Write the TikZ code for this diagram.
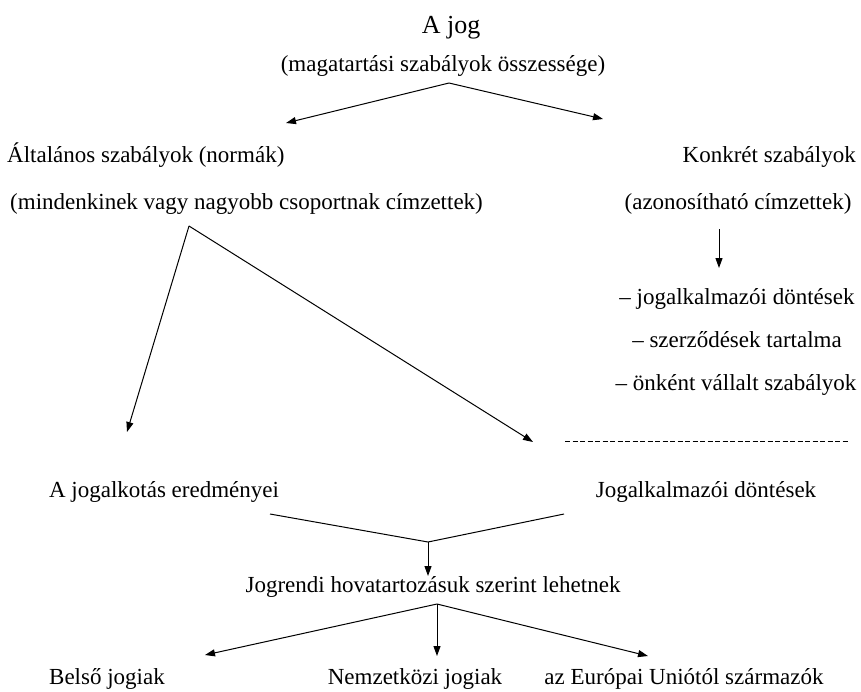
\documentclass[tikz,border=0pt]{standalone}
\usepackage{fontspec}
\setmainfont{Liberation Serif}
\usetikzlibrary{arrows.meta}
\begin{document}
\begin{tikzpicture}[x=1pt,y=-1pt,
  txt/.style={inner sep=0pt, font=\fontsize{23}{27}\selectfont},
  big/.style={inner sep=0pt, font=\fontsize{26}{30}\selectfont},
  conn/.style={line width=1pt},
  arr/.style={conn, -{Triangle[length=10pt,width=7pt]}},
  dash line/.style={line width=1pt, dash pattern=on 5pt off 2.5pt}
]
\useasboundingbox (0,0) rectangle (861,691);
% top
\node[big, anchor=base] (jog) at (451,33) {A jog};
\node[txt, anchor=base] (mag) at (443,71) {(magatartási szabályok összessége)};
\coordinate (a1) at (449,83);
\coordinate (t1) at (286,123);
\coordinate (t2) at (603,119);
\draw[arr] (a1) -- (t1);
\draw[arr] (a1) -- (t2);
% second level
\node[txt, anchor=base west] (alt) at (7,162) {Általános szabályok (normák)};
\node[txt, anchor=base west] (mind) at (10,209) {(mindenkinek vagy nagyobb csoportnak címzettek)};
\node[txt, anchor=base east] (konk) at (856,162) {Konkrét szabályok};
\node[txt, anchor=base] (azon) at (738,209) {(azonosítható címzettek)};
% right column
\coordinate (k1) at (719,229);
\coordinate (k2) at (719,268);
\draw[arr] (k1) -- (k2);
\node[txt, anchor=base] (l1) at (737,304) {– jogalkalmazói döntések};
\node[txt, anchor=base] (l2) at (737,347) {– szerződések tartalma};
\node[txt, anchor=base] (l3) at (736,390) {– önként vállalt szabályok};
\coordinate (d1) at (565,441);
\coordinate (d2) at (848,441);
\draw[dash line] (d1) -- (d2);
% general branch
\coordinate (a2) at (189,226);
\coordinate (g1) at (127,432);
\coordinate (g2) at (533,442);
\draw[arr] (a2) -- (g1);
\draw[arr] (a2) -- (g2);
\node[txt, anchor=base] (jk) at (164,497) {A jogalkotás eredményei};
\node[txt, anchor=base] (ja) at (706,497) {Jogalkalmazói döntések};
% merge
\coordinate (v1) at (270,514);
\coordinate (v2) at (564,514);
\coordinate (v0) at (428,542);
\coordinate (v3) at (428,576);
\draw[conn] (v1) -- (v0) -- (v2);
\draw[arr] (v0) -- (v3);
\node[txt, anchor=base] (jr) at (433,592) {Jogrendi hovatartozásuk szerint lehetnek};
% bottom
\coordinate (b0) at (437,604);
\coordinate (b1) at (205,655);
\coordinate (b2) at (437,656);
\coordinate (b3) at (648,656);
\draw[arr] (b0) -- (b1);
\draw[arr] (b0) -- (b2);
\draw[arr] (b0) -- (b3);
\node[txt, anchor=base] (be) at (107,684) {Belső jogiak};
\node[txt, anchor=base] (nk) at (415,684) {Nemzetközi jogiak};
\node[txt, anchor=base] (eu) at (684,684) {az Európai Uniótól származók};
\end{tikzpicture}
\end{document}
